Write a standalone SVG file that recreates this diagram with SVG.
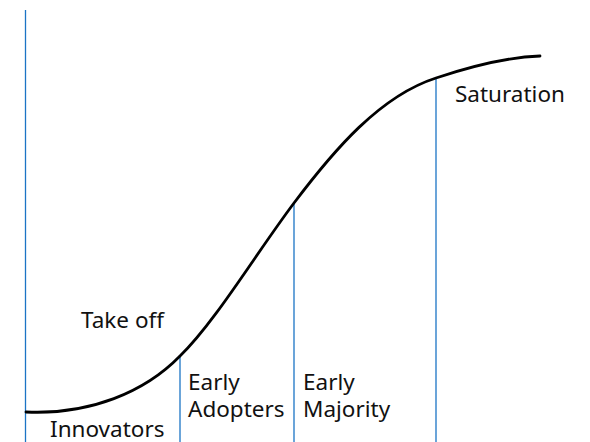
<svg xmlns="http://www.w3.org/2000/svg" width="590" height="442" viewBox="0 0 590 442">
  <style>
    .stage { stroke: #1b74c5; stroke-width: 1.3; fill: none; }
    .curve { stroke: #000; stroke-width: 2.8; fill: none; stroke-linecap: round; }
    .label { font-family: "Noto Sans", "Open Sans", sans-serif; font-size: 22.5px; fill: #111; }
  </style>
  <rect width="590" height="442" fill="#fff"/>
  <g id="connectors">
    <line class="stage" x1="25.5" y1="10" x2="25.5" y2="442"/>
    <line class="stage" x1="180" y1="356" x2="180" y2="442"/>
    <line class="stage" x1="294" y1="203" x2="294" y2="442"/>
    <line class="stage" x1="436" y1="78" x2="436" y2="442"/>
    <path class="curve" d="M26,412 C90,415 145,392 180,356 C215,322 255,255 294,203 C334,150 380,96 436,78 C475,65 510,57 540,56"/>
  </g>
  <g id="innovators">
    <text class="label" x="50" y="437">Innovators</text>
  </g>
  <g id="take-off">
    <text class="label" x="81" y="328">Take off</text>
  </g>
  <g id="early-adopters">
    <text class="label" x="188" y="390">Early</text>
    <text class="label" x="188" y="417">Adopters</text>
  </g>
  <g id="early-majority">
    <text class="label" x="303" y="390">Early</text>
    <text class="label" x="303" y="417">Majority</text>
  </g>
  <g id="saturation">
    <text class="label" x="455" y="102">Saturation</text>
  </g>
</svg>
